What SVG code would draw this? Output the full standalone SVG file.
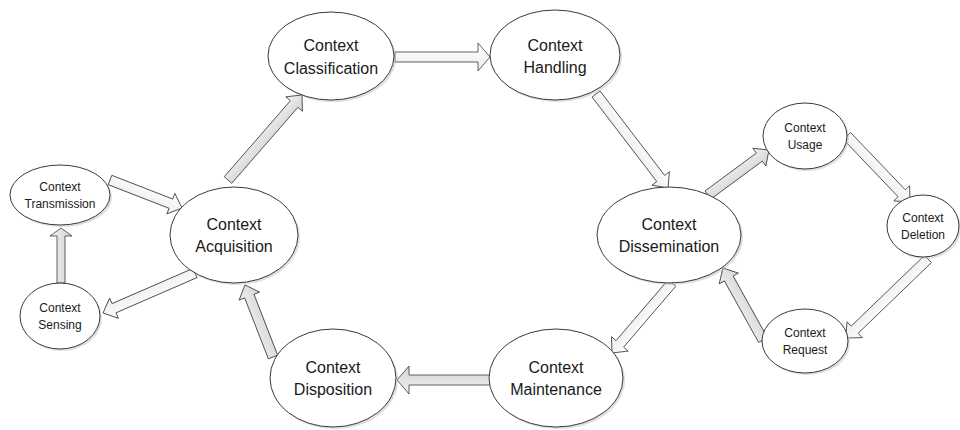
<svg xmlns="http://www.w3.org/2000/svg" width="960" height="430" viewBox="0 0 960 430">
  <style>
    .node ellipse.body { fill: #ffffff; stroke: #3a3a3a; stroke-width: 1; }
    .node ellipse.shade { fill: #b8b8b8; opacity: 0.45; }
    .node text { font-family: "Liberation Sans", Arial, sans-serif; fill: #1a1a1a; text-anchor: middle; }
    .big text { font-size: 16px; }
    .small text { font-size: 12px; }
    .arrow { stroke: #3a3a3a; stroke-width: 0.8; stroke-linejoin: miter; }
    .grey { fill: url(#greyFill); }
    .light { fill: url(#lightFill); }
  </style>
  <defs>
    <linearGradient id="greyFill" x1="0" y1="0" x2="0" y2="1">
      <stop offset="0" stop-color="#f0f0f0"/>
      <stop offset="1" stop-color="#d4d4d4"/>
    </linearGradient>
    <linearGradient id="lightFill" x1="0" y1="0" x2="0" y2="1">
      <stop offset="0" stop-color="#ffffff"/>
      <stop offset="1" stop-color="#ececec"/>
    </linearGradient>
  </defs>
  <rect width="960" height="430" fill="#ffffff"/>

  <!-- block arrows: drawn along +x from the tail, then placed -->
  <g id="connectors">
    <path class="arrow grey" transform="translate(228,180) rotate(-48.96)" d="M0,-5 H100.7 V-11 L112.7,0 L100.7,11 V5 H0 Z"/>
    <path class="arrow light" transform="translate(395,57) rotate(0)" d="M0,-5 H83 V-14 L95,0 L83,14 V5 H0 Z"/>
    <path class="arrow light" transform="translate(596,94) rotate(52.55)" d="M0,-5 H106.4 V-11 L118.4,0 L106.4,11 V5 H0 Z"/>
    <path class="arrow grey" transform="translate(708,195) rotate(-36.42)" d="M0,-5 H63.8 V-11 L75.8,0 L63.8,11 V5 H0 Z"/>
    <path class="arrow light" transform="translate(847,136) rotate(46.33)" d="M0,-5 H79.2 V-11 L91.2,0 L79.2,11 V5 H0 Z"/>
    <path class="arrow light" transform="translate(928,259) rotate(136.07)" d="M0,-5 H101.9 V-11 L113.9,0 L101.9,11 V5 H0 Z"/>
    <path class="arrow grey" transform="translate(763,340) rotate(-119.05)" d="M0,-5 H70.4 V-11 L82.4,0 L70.4,11 V5 H0 Z"/>
    <path class="arrow light" transform="translate(672,283) rotate(130.6)" d="M0,-5 H80.2 V-11 L92.2,0 L80.2,11 V5 H0 Z"/>
    <path class="arrow grey" transform="translate(490,380) rotate(180)" d="M0,-5 H81 V-14 L93,0 L81,14 V5 H0 Z"/>
    <path class="arrow grey" transform="translate(273,357) rotate(-111.25)" d="M0,-5 H65.3 V-11 L77.3,0 L65.3,11 V5 H0 Z"/>
    <path class="arrow light" transform="translate(195,273) rotate(156.5)" d="M0,-5 H88.3 V-11 L100.3,0 L88.3,11 V5 H0 Z"/>
    <path class="arrow grey" transform="translate(61,283) rotate(-90)" d="M0,-4 H47 V-11 L55,0 L47,11 V4 H0 Z"/>
    <path class="arrow light" transform="translate(110,180) rotate(21.25)" d="M0,-5 H65.3 V-11 L77.3,0 L65.3,11 V5 H0 Z"/>
  </g>

  <g id="acquisition" class="node big">
    <ellipse class="shade" cx="236" cy="237" rx="64" ry="48"/>
    <ellipse class="body" cx="234" cy="235" rx="64" ry="48"/>
    <text x="234" y="230">Context</text>
    <text x="234" y="252">Acquisition</text>
  </g>
  <g id="classification" class="node big">
    <ellipse class="shade" cx="333" cy="58" rx="63" ry="44"/>
    <ellipse class="body" cx="331" cy="56" rx="63" ry="44"/>
    <text x="331" y="51">Context</text>
    <text x="331" y="74">Classification</text>
  </g>
  <g id="handling" class="node big">
    <ellipse class="shade" cx="557" cy="57" rx="65" ry="45"/>
    <ellipse class="body" cx="555" cy="55" rx="65" ry="45"/>
    <text x="555" y="51">Context</text>
    <text x="555" y="73">Handling</text>
  </g>
  <g id="dissemination" class="node big">
    <ellipse class="shade" cx="671" cy="237" rx="72" ry="48"/>
    <ellipse class="body" cx="669" cy="235" rx="72" ry="48"/>
    <text x="669" y="230">Context</text>
    <text x="669" y="252">Dissemination</text>
  </g>
  <g id="maintenance" class="node big">
    <ellipse class="shade" cx="558" cy="380" rx="67" ry="49"/>
    <ellipse class="body" cx="556" cy="378" rx="67" ry="49"/>
    <text x="556" y="373">Context</text>
    <text x="556" y="395">Maintenance</text>
  </g>
  <g id="disposition" class="node big">
    <ellipse class="shade" cx="335" cy="380" rx="63" ry="49"/>
    <ellipse class="body" cx="333" cy="378" rx="63" ry="49"/>
    <text x="333" y="373">Context</text>
    <text x="333" y="395">Disposition</text>
  </g>
  <g id="transmission" class="node small">
    <ellipse class="shade" cx="62" cy="197" rx="50" ry="30"/>
    <ellipse class="body" cx="60" cy="195" rx="50" ry="30"/>
    <text x="60" y="191">Context</text>
    <text x="60" y="208">Transmission</text>
  </g>
  <g id="sensing" class="node small">
    <ellipse class="shade" cx="62" cy="318" rx="40" ry="33"/>
    <ellipse class="body" cx="60" cy="316" rx="40" ry="33"/>
    <text x="60" y="312">Context</text>
    <text x="60" y="329">Sensing</text>
  </g>
  <g id="usage" class="node small">
    <ellipse class="shade" cx="807" cy="138" rx="42" ry="33"/>
    <ellipse class="body" cx="805" cy="136" rx="42" ry="33"/>
    <text x="805" y="132">Context</text>
    <text x="805" y="149">Usage</text>
  </g>
  <g id="deletion" class="node small">
    <ellipse class="shade" cx="925" cy="228" rx="36" ry="31"/>
    <ellipse class="body" cx="923" cy="226" rx="36" ry="31"/>
    <text x="923" y="222">Context</text>
    <text x="923" y="239">Deletion</text>
  </g>
  <g id="request" class="node small">
    <ellipse class="shade" cx="807" cy="343" rx="43" ry="32"/>
    <ellipse class="body" cx="805" cy="341" rx="43" ry="32"/>
    <text x="805" y="337">Context</text>
    <text x="805" y="354">Request</text>
  </g>
</svg>
